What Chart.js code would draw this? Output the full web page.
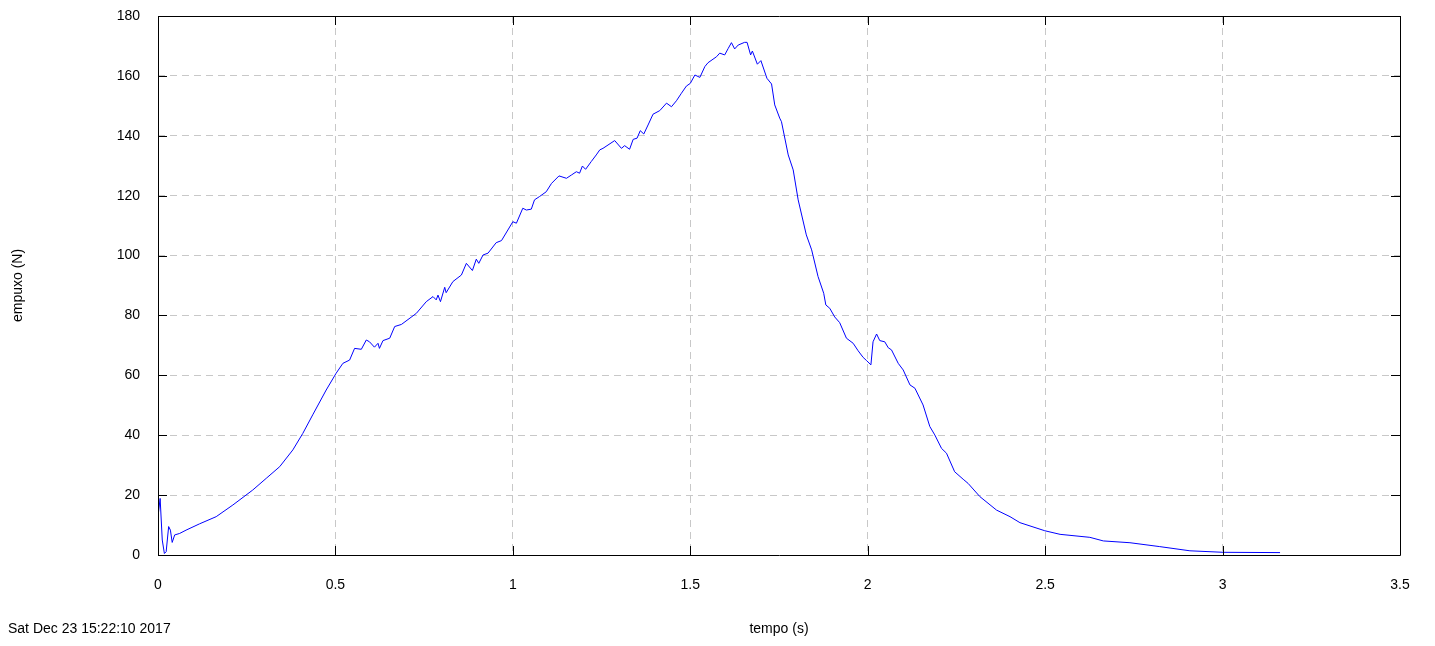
<!DOCTYPE html>
<html>
<head>
<meta charset="utf-8">
<script src="https://cdn.jsdelivr.net/npm/chart.js@4/dist/chart.umd.min.js"></script>
<style>
	html, body { margin: 0; padding: 0; background: #fff; }
	#wrap { width: 1435px; height: 646px; position: relative; }
</style>
</head>
<body>
<div id="wrap"><canvas id="empuxoChart"></canvas></div>
<script>
// tempo (s) e empuxo (N)
var tempo = [0.000, 0.006, 0.012, 0.018, 0.023, 0.030, 0.035, 0.040, 0.047, 0.061,
	0.079, 0.117, 0.164, 0.211, 0.267, 0.305, 0.343, 0.380, 0.408, 0.436,
	0.474, 0.502, 0.521, 0.540, 0.554, 0.573, 0.587, 0.596, 0.610, 0.620,
	0.624, 0.634, 0.653, 0.667, 0.686, 0.728, 0.756, 0.775, 0.784, 0.789,
	0.796, 0.808, 0.812, 0.831, 0.855, 0.869, 0.886, 0.897, 0.904, 0.916,
	0.930, 0.953, 0.968, 1.000, 1.010, 1.028, 1.038, 1.052, 1.061, 1.075,
	1.094, 1.109, 1.130, 1.151, 1.165, 1.179, 1.188, 1.196, 1.205, 1.221,
	1.235, 1.245, 1.254, 1.287, 1.306, 1.315, 1.329, 1.339, 1.350, 1.359,
	1.369, 1.381, 1.395, 1.414, 1.433, 1.447, 1.461, 1.475, 1.489, 1.500,
	1.513, 1.527, 1.541, 1.550, 1.574, 1.583, 1.597, 1.607, 1.616, 1.625,
	1.635, 1.653, 1.660, 1.670, 1.675, 1.689, 1.699, 1.716, 1.729, 1.738,
	1.752, 1.757, 1.776, 1.790, 1.804, 1.827, 1.842, 1.860, 1.876, 1.882,
	1.893, 1.907, 1.921, 1.940, 1.959, 1.973, 1.987, 1.997, 2.009, 2.015,
	2.025, 2.034, 2.048, 2.058, 2.067, 2.086, 2.100, 2.119, 2.133, 2.156,
	2.175, 2.189, 2.208, 2.222, 2.245, 2.269, 2.283, 2.316, 2.363, 2.401,
	2.429, 2.499, 2.542, 2.626, 2.664, 2.739, 2.823, 2.908, 3.002, 3.162];
var empuxo = [12.8, 18.9, 5.0, 0.5, 1.1, 9.5, 8.3, 4.2, 6.7, 7.2,
	8.3, 10.4, 12.8, 16.7, 21.7, 25.6, 29.5, 35.1, 40.6, 46.8,
	55.1, 60.7, 64.0, 65.1, 69.0, 68.7, 71.8, 71.2, 69.4, 70.7,
	69.0, 71.6, 72.4, 76.3, 77.0, 80.7, 84.6, 86.3, 85.2, 86.8,
	84.6, 89.4, 87.6, 91.3, 93.5, 97.4, 95.0, 98.8, 97.4, 100.2,
	100.8, 104.3, 105.0, 111.3, 110.8, 115.8, 115.2, 115.5, 118.6, 119.7,
	121.3, 124.1, 126.6, 125.8, 126.9, 128.0, 127.5, 129.9, 128.8, 131.4,
	133.6, 135.3, 135.8, 138.4, 135.8, 136.7, 135.5, 138.8, 139.2, 141.7,
	140.6, 143.6, 147.2, 148.4, 150.9, 149.7, 151.7, 154.2, 156.6, 157.5,
	160.3, 159.5, 163.1, 164.4, 166.4, 167.6, 167.0, 169.2, 171.1, 169.0,
	170.3, 171.2, 171.2, 167.0, 168.3, 163.9, 165.1, 159.2, 157.3, 150.3,
	145.9, 144.7, 133.6, 128.6, 118.6, 106.9, 101.9, 93.0, 87.4, 83.5,
	82.4, 79.5, 77.6, 72.4, 70.7, 68.2, 66.0, 64.9, 63.5, 71.2,
	73.8, 71.6, 71.2, 69.2, 68.5, 64.0, 61.8, 56.8, 55.7, 50.1,
	42.9, 40.1, 35.6, 34.0, 27.8, 25.3, 23.9, 19.5, 15.0, 12.8,
	10.8, 8.1, 6.9, 5.9, 4.7, 4.1, 2.8, 1.4, 0.9, 0.8];
var xTicks = [0, 0.5, 1, 1.5, 2, 2.5, 3, 3.5];
var yTicks = [0, 20, 40, 60, 80, 100, 120, 140, 160, 180];
var carimbo = 'Sat Dec 23 15:22:10 2017';

var pontos = [];
for (var i = 0; i < tempo.length; i++) {
	pontos.push({x: tempo[i], y: empuxo[i]});
}

// moldura com marcas de escala para dentro (estilo gnuplot) e data no canto
var moldura = {
	id: 'moldura',
	afterDraw: function(chart) {
		var ctx = chart.ctx;
		var a = chart.chartArea;
		var sx = chart.scales.x, sy = chart.scales.y;
		ctx.save();
		ctx.strokeStyle = '#000';
		ctx.lineWidth = 1;
		ctx.beginPath();
		ctx.rect(Math.round(a.left) + 0.5, Math.round(a.top) + 0.5, Math.round(a.right - a.left), Math.round(a.bottom - a.top));
		xTicks.forEach(function(v) {
			var px = Math.round(sx.getPixelForValue(v)) + 0.5;
			ctx.moveTo(px, a.bottom); ctx.lineTo(px, a.bottom - 9);
			ctx.moveTo(px, a.top); ctx.lineTo(px, a.top + 9);
		});
		yTicks.forEach(function(v) {
			var py = Math.round(sy.getPixelForValue(v)) + 0.5;
			ctx.moveTo(a.left, py); ctx.lineTo(a.left + 9, py);
			ctx.moveTo(a.right, py); ctx.lineTo(a.right - 9, py);
		});
		ctx.stroke();
		ctx.fillStyle = '#000';
		ctx.font = '14px "Liberation Sans", Arial, sans-serif';
		ctx.textBaseline = 'middle';
		ctx.textAlign = 'left';
		ctx.fillText(carimbo, 8, 629);
		ctx.restore();
	}
};

Chart.defaults.font.family = '"Liberation Sans", Arial, sans-serif';
Chart.defaults.font.size = 14;
Chart.defaults.color = '#000';

new Chart('empuxoChart', {
	type: 'line',
	data: {
		datasets: [{
			data: pontos,
			borderColor: '#0000ff',
			borderWidth: 1,
			pointRadius: 0,
			tension: 0,
			fill: false
		}]
	},
	options: {
		responsive: true,
		maintainAspectRatio: false,
		animation: false,
		layout: { padding: { left: 0, right: 35, top: 16, bottom: 0 } },
		plugins: { legend: { display: false }, tooltip: { enabled: false } },
		scales: {
			x: {
				type: 'linear',
				min: 0,
				max: 3.5,
				afterBuildTicks: function(s) { s.ticks = xTicks.map(function(v) { return {value: v}; }); },
				afterFit: function(s) { s.height = 91; },
				ticks: { padding: 22, maxRotation: 0, autoSkip: false, callback: function(v) { return String(v); } },
				grid: { color: '#c8c8c8', drawTicks: false, tickLength: 0 },
				border: { display: false, dash: [7, 5] },
				title: { display: true, text: 'tempo (s)', padding: { top: 0, bottom: 8 } }
			},
			y: {
				type: 'linear',
				min: 0,
				max: 180,
				afterBuildTicks: function(s) { s.ticks = yTicks.map(function(v) { return {value: v}; }); },
				afterFit: function(s) { s.width = 158; s.paddingTop = 0; s.paddingBottom = 0; },
				ticks: { padding: 18, callback: function(v) { return String(v); } },
				grid: { color: '#c8c8c8', drawTicks: false, tickLength: 0 },
				border: { display: false, dash: [7, 5] },
				title: { display: true, text: 'empuxo (N)', padding: { top: 10, bottom: 0 } }
			}
		}
	},
	plugins: [moldura]
});
</script>
</body>
</html>
